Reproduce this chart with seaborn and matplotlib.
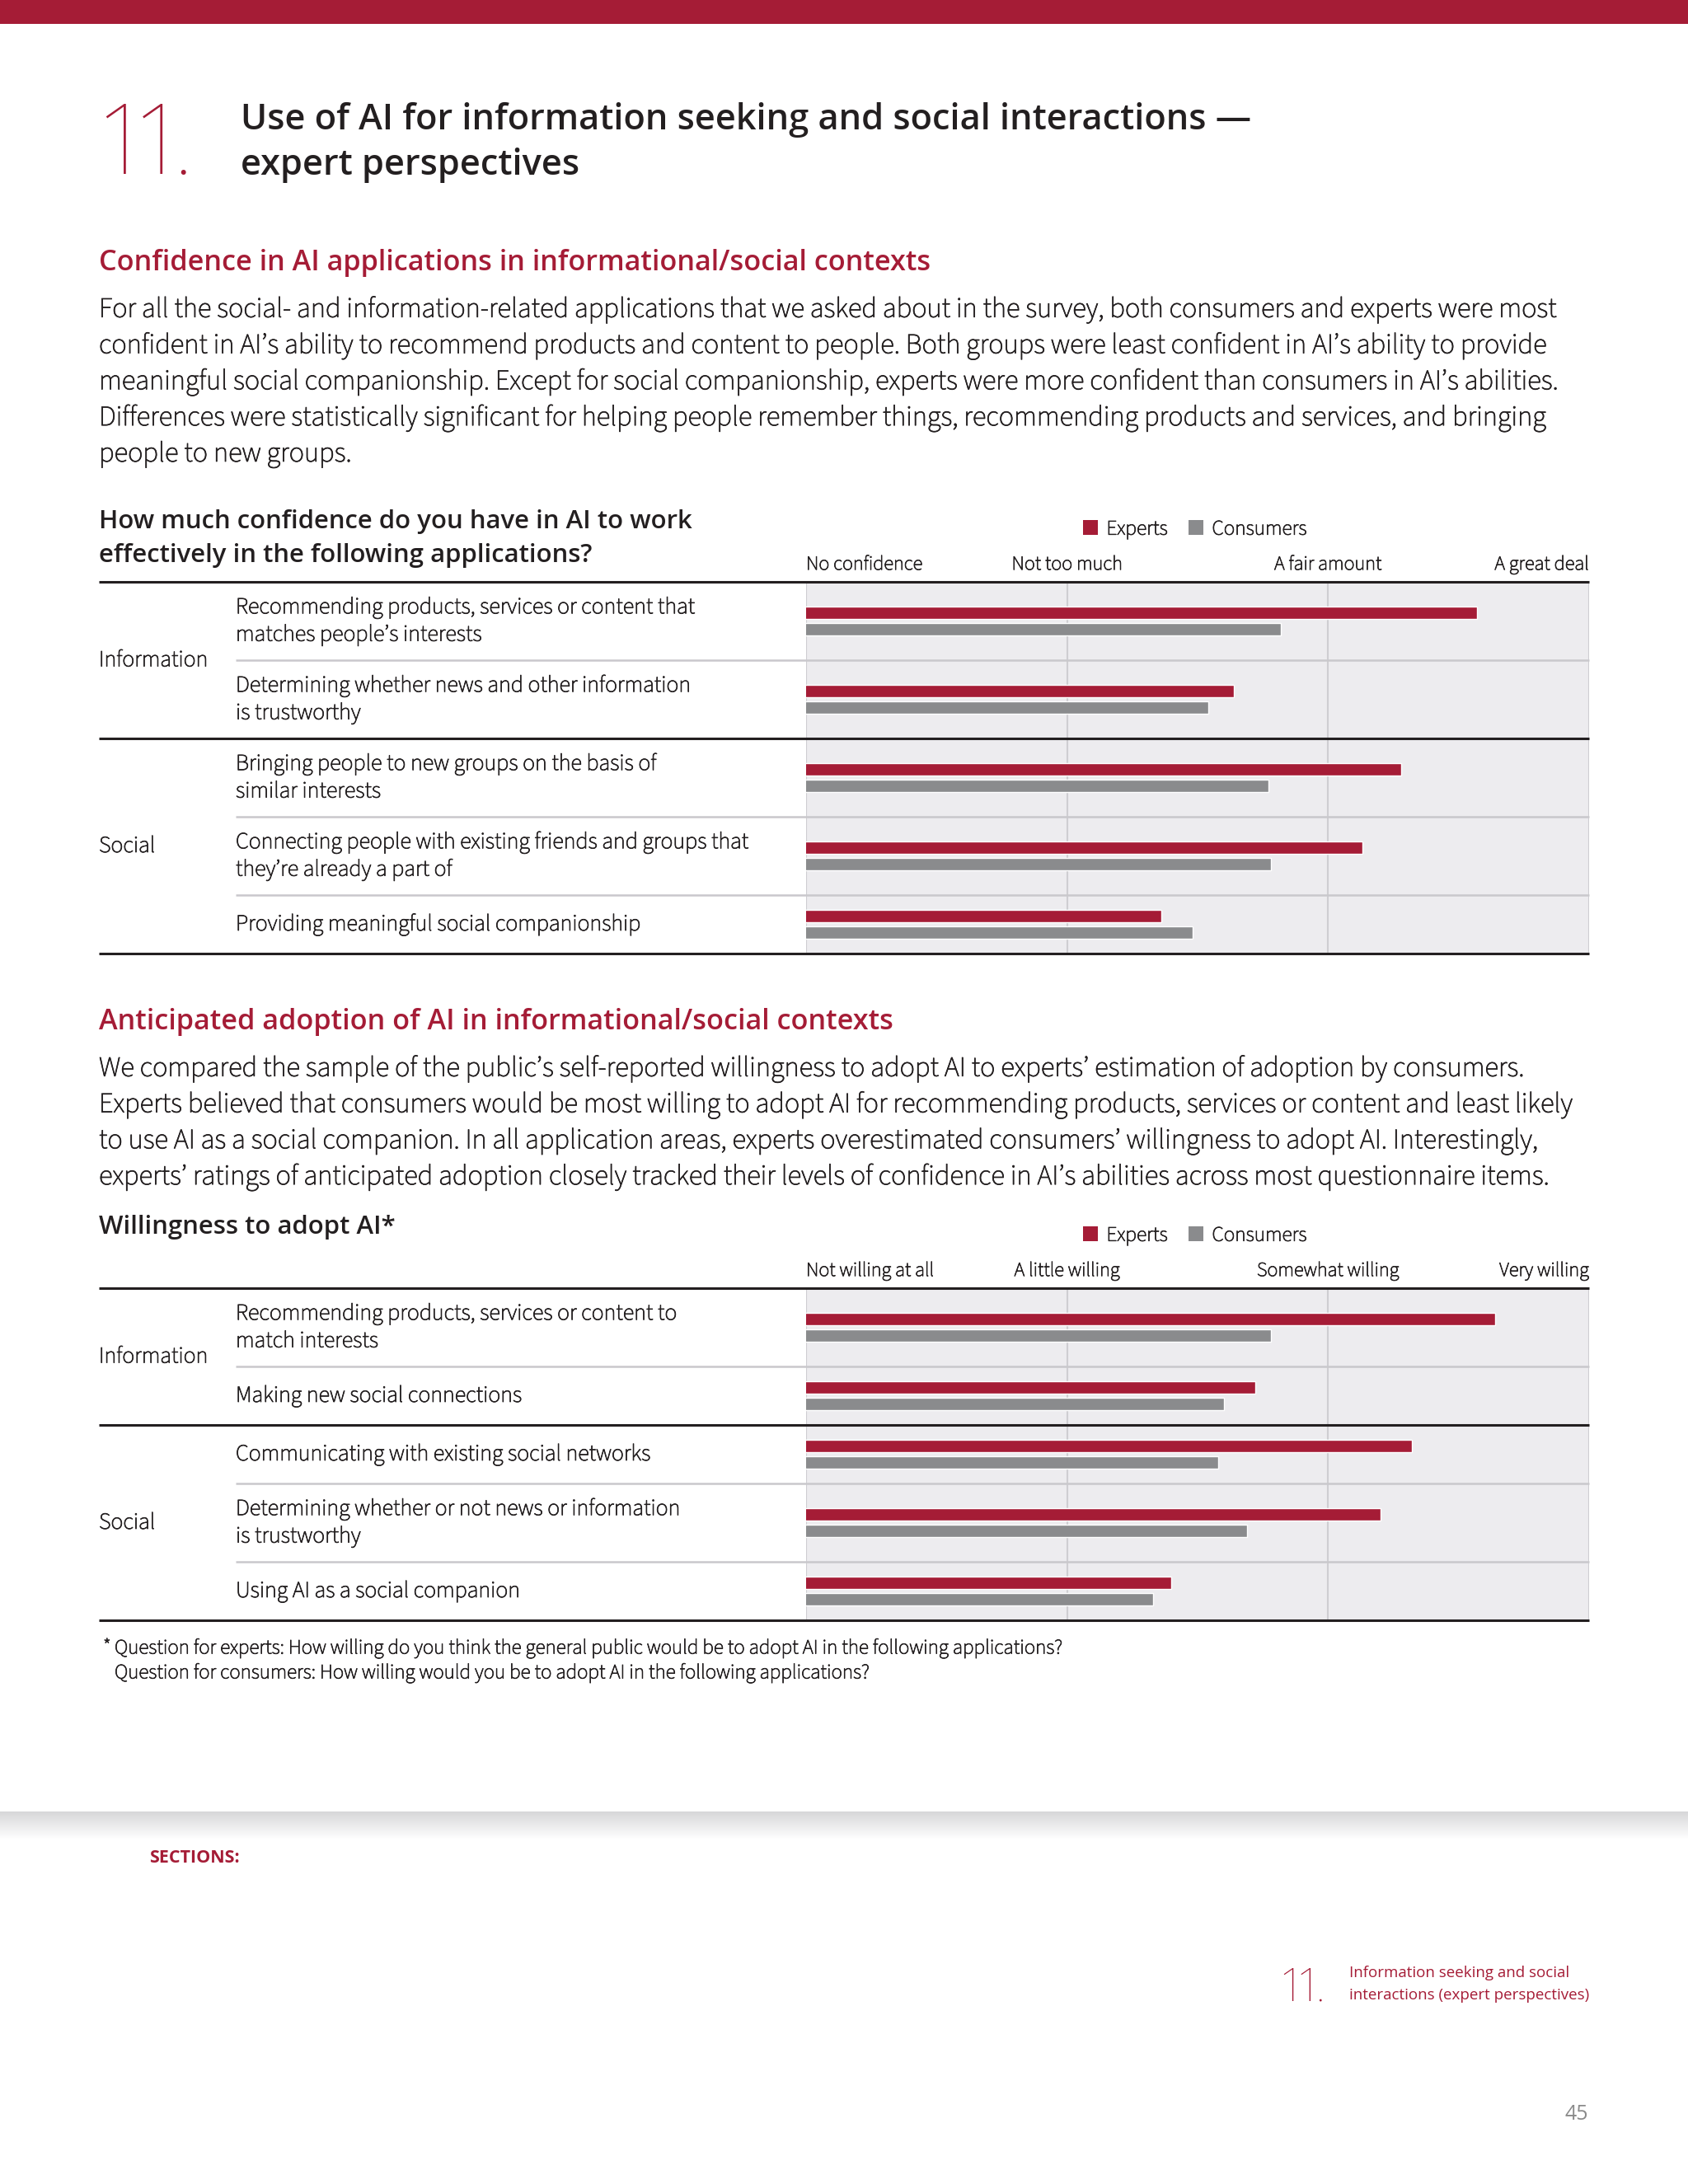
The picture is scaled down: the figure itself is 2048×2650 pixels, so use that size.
import numpy as np
import pandas as pd
import matplotlib.pyplot as plt
import seaborn as sns
from matplotlib import patheffects as pe
from matplotlib.lines import Line2D
from matplotlib.patches import Patch, Rectangle
from matplotlib.colors import LinearSegmentedColormap

# =======================
# Data (scale 1 = lowest answer, 4 = highest)
# =======================
conf_levels = ["No confidence", "Not too much", "A fair amount", "A great deal"]
conf_groups = ["Information", "Information", "Social", "Social", "Social"]
conf_items = [
    "Recommending products, services or content that\nmatches people\u2019s interests",
    "Determining whether news and other information\nis trustworthy",
    "Bringing people to new groups on the basis of\nsimilar interests",
    "Connecting people with existing friends and groups that\nthey\u2019re already a part of",
    "Providing meaningful social companionship",
]
conf_experts = [3.57, 2.64, 3.28, 3.13, 2.36]
conf_consumers = [2.82, 2.54, 2.77, 2.78, 2.48]

adopt_levels = ["Not willing at all", "A little willing", "Somewhat willing", "Very willing"]
adopt_groups = ["Information", "Information", "Social", "Social", "Social"]
adopt_items = [
    "Recommending products, services or content to\nmatch interests",
    "Making new social connections",
    "Communicating with existing social networks",
    "Determining whether or not news or information\nis trustworthy",
    "Using AI as a social companion",
]
adopt_experts = [3.64, 2.72, 3.32, 3.20, 2.40]
adopt_consumers = [2.78, 2.60, 2.58, 2.69, 2.33]

para1 = [
    "For all the social- and information-related applications that we asked about in the survey, both consumers and experts were most",
    "confident in AI\u2019s ability to recommend products and content to people. Both groups were least confident in AI\u2019s ability to provide",
    "meaningful social companionship. Except for social companionship, experts were more confident than consumers in AI\u2019s abilities.",
    "Differences were statistically significant for helping people remember things, recommending products and services, and bringing",
    "people to new groups.",
]
para2 = [
    "We compared the sample of the public\u2019s self-reported willingness to adopt AI to experts\u2019 estimation of adoption by consumers.",
    "Experts believed that consumers would be most willing to adopt AI for recommending products, services or content and least likely",
    "to use AI as a social companion. In all application areas, experts overestimated consumers\u2019 willingness to adopt AI. Interestingly,",
    "experts\u2019 ratings of anticipated adoption closely tracked their levels of confidence in AI\u2019s abilities across most questionnaire items.",
]
footnote = [
    "Question for experts: How willing do you think the general public would be to adopt AI in the following applications?",
    "Question for consumers: How willing would you be to adopt AI in the following applications?",
]

# =======================
# Style
# =======================
sns.set_theme(style="white")
LIGHT = ["Source Sans 3", "Source Sans Pro", "Open Sans", "DejaVu Sans"]
HEAVY = ["Open Sans", "DejaVu Sans"]
NUMF = ["Fira Sans Condensed", "Open Sans", "DejaVu Sans"]
plt.rcParams["font.family"] = LIGHT

RED = "#A51C36"
GREY = "#8A8B8D"
BG = "#EDECEF"
GRID = "#CFCED2"
SEP = "#C9C8CC"
INK = "#231F20"
PAL = {"Experts": RED, "Consumers": GREY}
THICK = [pe.withStroke(linewidth=0.55, foreground=INK)]

W, H = 2048, 2650
fig = plt.figure(figsize=(W / 100, H / 100), dpi=100)
renderer = fig.canvas.get_renderer()


def fx(x):
    return x / W


def fy(y):
    return 1 - y / H


def size_for(s, target, **kw):
    # font size that makes string s about `target` pixels wide
    t = fig.text(0, 0, s, fontsize=20, **kw)
    w = t.get_window_extent(renderer).width
    t.remove()
    return 20 * target / w


def txt(x, y, s, **kw):
    kw.setdefault("color", INK)
    kw.setdefault("va", "center")
    return fig.text(fx(x), fy(y), s, **kw)


def ltxt(x, y, s, **kw):
    # light body/label text, slightly thickened
    return txt(x, y, s, path_effects=THICK, **kw)


def hline(x0, x1, y, color, lw):
    fig.add_artist(Line2D([fx(x0), fx(x1)], [fy(y), fy(y)], color=color, lw=lw,
                          solid_capstyle="butt"))


BOLD = dict(family=HEAVY, weight="semibold")
S_TITLE = size_for("Use of AI for information seeking and social interactions \u2014", 1225, **BOLD)
S_HEAD = size_for("Confidence in AI applications in informational/social contexts", 1009, **BOLD)
S_Q = size_for("How much confidence do you have in AI to work", 721, **BOLD)
S_BODY = size_for(para1[0], 1768)
S_ITEM = size_for("Recommending products, services or content that", 557)
S_TICK = size_for("No confidence", 141)
S_LEG = size_for("Consumers", 115)
S_FOOT = size_for(footnote[0], 1149)
S_SMALL = size_for("Information seeking and social", 266, family=HEAVY)
S_SECT = size_for("SECTIONS:", 110, family=HEAVY, weight="bold")

# top band
fig.add_artist(Rectangle((0, fy(29)), 1, 29 / H, color=RED, lw=0))

# page title
NUM = dict(color=RED, family=NUMF, weight="light", va="baseline")
txt(122, 211, "11.", fontsize=S_TITLE * 0 + 92, **NUM)
txt(292, 145, "Use of AI for information seeking and social interactions \u2014",
    fontsize=S_TITLE, **BOLD)
txt(292, 201, "expert perspectives", fontsize=S_TITLE, **BOLD)


def paragraph(y0, lines):
    for i, line in enumerate(lines):
        ltxt(120, y0 + i * 43.8, line, fontsize=S_BODY)


def chart(top, items, groups, experts, consumers, levels):
    heights = [95 if "\n" in s else 71 for s in items]
    y = top
    bounds = [top]
    for i, (item, e, c, h) in enumerate(zip(items, experts, consumers, heights)):
        ax = fig.add_axes([fx(978), fy(y + h), (1928 - 978) / W, h / H])
        df = pd.DataFrame({"value": [e, c], "who": ["Experts", "Consumers"]})
        sns.barplot(data=df, x="value", y="who", hue="who", palette=PAL, orient="h",
                    width=0.75, saturation=1, errorbar=None, legend=False, ax=ax)
        ax.set_facecolor(BG)
        ax.set_xlim(1, 4)
        ax.set_ylim(0.5 + h / 40, 0.5 - h / 40)
        ax.set_xticks([1, 2, 3, 4])
        ax.grid(axis="x", color=GRID, lw=1.5)
        ax.set_axisbelow(True)
        ax.set_yticks([])
        ax.set_xlabel("")
        ax.set_ylabel("")
        for s in ax.spines.values():
            s.set_visible(False)
        if i == 0:
            ax.set_xticklabels(levels, fontsize=S_TICK, color=INK)
            ax.tick_params(axis="x", top=True, labeltop=True, bottom=False,
                           labelbottom=False, length=0, pad=7)
            for lbl, ha in zip(ax.get_xticklabels(), ["left", "center", "center", "right"]):
                lbl.set_ha(ha)
                lbl.set_path_effects(THICK)
        else:
            ax.tick_params(axis="x", length=0, labelbottom=False)
        ltxt(286, y + h / 2, item, fontsize=S_ITEM, linespacing=1.3)
        y += h
        bounds.append(y)

    # separators and group labels
    hline(120, 1928, bounds[0], INK, 2.2)
    start = 0
    for i in range(1, len(items) + 1):
        if i == len(items) or groups[i] != groups[i - 1]:
            ltxt(120, (bounds[start] + bounds[i]) / 2, groups[start], fontsize=S_ITEM)
            hline(120, 1928, bounds[i], INK, 2.2)
            start = i
        else:
            hline(286, 1928, bounds[i], SEP, 1.8)


def legend(y):
    handles = [Patch(color=RED, lw=0), Patch(color=GREY, lw=0)]
    leg = fig.legend(handles, ["Experts", "Consumers"], loc="center left",
                     bbox_to_anchor=(fx(1314), fy(y)), ncol=2, frameon=False,
                     prop={"size": S_LEG}, handlelength=0.72, handleheight=0.72,
                     handletextpad=0.4, columnspacing=1.0, borderpad=0, borderaxespad=0)
    for t in leg.get_texts():
        t.set_color(INK)
        t.set_path_effects(THICK)


# section 1
txt(120, 319, "Confidence in AI applications in informational/social contexts",
    fontsize=S_HEAD, color=RED, **BOLD)
paragraph(376, para1)
txt(120, 633, "How much confidence do you have in AI to work", fontsize=S_Q, **BOLD)
txt(120, 674, "effectively in the following applications?", fontsize=S_Q, **BOLD)
legend(642)
chart(706, conf_items, conf_groups, conf_experts, conf_consumers, conf_levels)

# section 2
txt(120, 1240, "Anticipated adoption of AI in informational/social contexts",
    fontsize=S_HEAD, color=RED, **BOLD)
paragraph(1297, para2)
txt(120, 1489, "Willingness to adopt AI*", fontsize=S_Q, **BOLD)
legend(1499)
chart(1563, adopt_items, adopt_groups, adopt_experts, adopt_consumers, adopt_levels)

# footnote
ltxt(125, 1999, "*", fontsize=S_FOOT)
for i, line in enumerate(footnote):
    ltxt(139, 2000 + i * 30, line, fontsize=S_FOOT)

# footer shadow
sh = fig.add_axes([0, fy(2232), 1, 34 / H])
sh.imshow(np.linspace(1, 0, 34)[:, None], aspect="auto",
          cmap=LinearSegmentedColormap.from_list("sh", ["#FFFFFF", "#D6D6D8"]), vmin=0, vmax=1)
sh.set_axis_off()

txt(181, 2254, "SECTIONS:", fontsize=S_SECT, family=HEAVY, weight="bold", color=RED)
txt(1554, 2427, "11.", fontsize=44, **NUM)
txt(1637, 2394, "Information seeking and social", fontsize=S_SMALL, family=HEAVY, color=RED)
txt(1637, 2421, "interactions (expert perspectives)", fontsize=S_SMALL, family=HEAVY, color=RED)
txt(1927, 2565, "45", fontsize=18, color="#8A8A8A", family=HEAVY, ha="right")

fig.savefig("out.png", dpi=100, facecolor="white")
